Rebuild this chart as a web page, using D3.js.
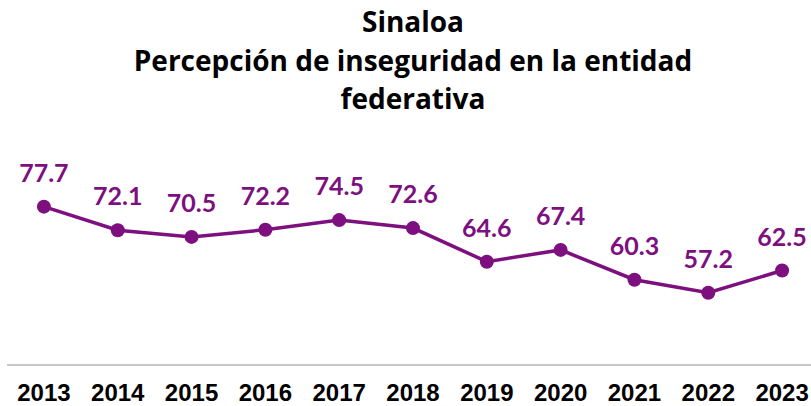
<!DOCTYPE html>
<html><head><meta charset="utf-8">
<script src="https://cdn.jsdelivr.net/npm/d3@7"></script>
<style>body{margin:0;background:#fff}svg{display:block}</style>
</head><body>
<script>
const years = ["2013","2014","2015","2016","2017","2018","2019","2020","2021","2022","2023"];
const values = [77.7,72.1,70.5,72.2,74.5,72.6,64.6,67.4,60.3,57.2,62.5];
const titleLines = ["Sinaloa","Percepción de inseguridad en la entidad","federativa"];

const W=811,H=406;
const svg=d3.select("body").append("svg").attr("width",W).attr("height",H);
const purple="#7D0F7F";
const x=d3.scaleBand().domain(years).range([7,819]);
const y=d3.scaleLinear().domain([40,100]).range([365,113]);

svg.selectAll("text.title").data(titleLines).join("text").attr("class","title")
  .attr("x",413).attr("y",(d,i)=>32+i*38.5)
  .attr("text-anchor","middle")
  .style("font-family","'Open Sans', sans-serif").style("font-weight","bold").style("font-size","28px")
  .attr("fill","#000").text(d=>d);

svg.append("line").attr("x1",7).attr("x2",W).attr("y1",y(40)).attr("y2",y(40))
  .attr("stroke","#c8c8c8").attr("stroke-width",2);

const xAxis=svg.append("g").attr("transform",`translate(0,${y(40)})`)
  .call(d3.axisBottom(x).tickSize(0).tickPadding(19));
xAxis.select(".domain").remove();
xAxis.selectAll("text").style("font-family","'Liberation Sans', Arial, sans-serif")
  .style("font-weight","bold").style("font-size","24px").attr("fill","#000");

const cx=d=>x(d)+x.bandwidth()/2;
const line=d3.line().x((d,i)=>cx(years[i])).y(d=>y(d));
svg.append("path").datum(values).attr("d",line).attr("fill","none")
  .attr("stroke",purple).attr("stroke-width",3.5);
svg.selectAll("circle").data(values).join("circle")
  .attr("cx",(d,i)=>cx(years[i])).attr("cy",d=>y(d)).attr("r",7).attr("fill",purple);
svg.selectAll("text.lab").data(values).join("text").attr("class","lab")
  .attr("x",(d,i)=>cx(years[i])).attr("y",d=>y(d)-25)
  .attr("text-anchor","middle")
  .style("font-family","Lato, 'Open Sans', sans-serif").style("font-weight","bold").style("font-size","25px")
  .attr("fill",purple).text(d=>d.toFixed(1));
</script>
</body></html>
